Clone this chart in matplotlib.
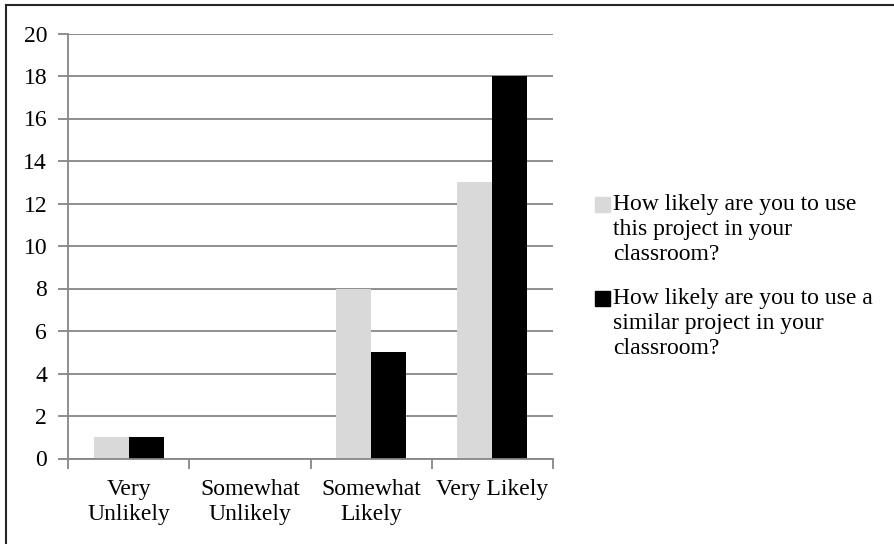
import matplotlib
matplotlib.use("Agg")
import matplotlib.pyplot as plt
from matplotlib.patches import Rectangle
from matplotlib.lines import Line2D
import numpy as np

plt.rcParams['font.family'] = ['Liberation Serif', 'DejaVu Serif']

categories = ["Very\nUnlikely", "Somewhat\nUnlikely", "Somewhat\nLikely", "Very Likely"]
this_project = [1, 0, 8, 13]
similar_project = [1, 0, 5, 18]
series_labels = ["How likely are you to use\nthis project in your\nclassroom?",
                 "How likely are you to use a\nsimilar project in your\nclassroom?"]
series_colors = ["#D9D9D9", "#000000"]
y_ticks = list(range(0, 21, 2))

FS = 17
W, H = 895, 544
fig = plt.figure(figsize=(W / 100, H / 100), dpi=100)
ax = fig.add_axes([68 / W, (H - 458.5) / H, (553 - 68) / W, (458.5 - 33.5) / H])

x = np.arange(len(categories))
bw = 0.289
ax.bar(x - bw / 2, this_project, bw, color=series_colors[0], zorder=2)
ax.bar(x + bw / 2, similar_project, bw, color=series_colors[1], zorder=2)

grid_c = "#868686"
ax.set_xlim(-0.5, len(categories) - 0.5)
ax.set_ylim(0, 20)
ax.set_yticks(y_ticks)
ax.set_yticklabels([str(v) for v in y_ticks], fontsize=FS)
ax.yaxis.grid(True, color=grid_c, linewidth=1.3, zorder=0)
ax.set_axisbelow(True)

ax.set_xticks(np.arange(len(categories) + 1) - 0.5)
ax.set_xticklabels([])
ax.set_xticks(x, minor=True)
ax.set_xticklabels(categories, minor=True, fontsize=FS, linespacing=1.22)
ax.tick_params(axis='x', which='minor', length=0, pad=15)
ax.tick_params(axis='x', which='major', length=7, color=grid_c, width=1.3)
ax.tick_params(axis='y', length=7, color=grid_c, width=1.3, pad=8)

for side in ("top", "right"):
    ax.spines[side].set_visible(False)
for side in ("left", "bottom"):
    ax.spines[side].set_color(grid_c)
    ax.spines[side].set_linewidth(1.3)

# legend drawn in figure pixel coordinates
def fx(px):
    return px / W

def fy(py):
    return 1 - py / H

for i, (lab, col) in enumerate(zip(series_labels, series_colors)):
    top = 197 + i * 94
    fig.patches.append(Rectangle((fx(595), fy(top + 15)), 15 / W, 15 / H,
                                 transform=fig.transFigure, color=col))
    fig.text(fx(613), fy(top - 3), lab, fontsize=FS, va='top', ha='left',
             linespacing=1.26)

# chart frame
fig.add_artist(Line2D([fx(6), fx(6)], [fy(4.5), 0], transform=fig.transFigure,
                      color="#262626", linewidth=1.5))
fig.add_artist(Line2D([fx(6), 1], [fy(4.5), fy(4.5)], transform=fig.transFigure,
                      color="#262626", linewidth=1.5))

fig.savefig("out.png", dpi=100)
